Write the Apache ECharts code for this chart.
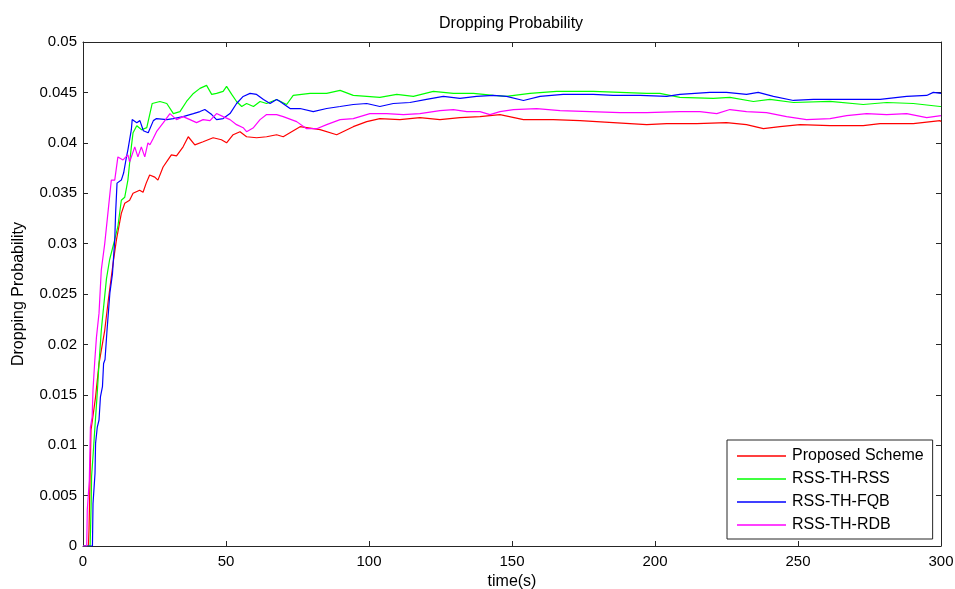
<!DOCTYPE html>
<html>
<head>
<meta charset="utf-8">
<script src="https://cdn.jsdelivr.net/npm/echarts@6/dist/echarts.min.js"></script>
<style>
  html, body { margin: 0; padding: 0; background: #fff; }
  #chart { width: 955px; height: 589px; }
</style>
</head>
<body>
<div id="chart"></div>
<script>
// Dropping probability over simulation time, [time (s), probability]
var proposedScheme = [
  [0, 0], [1.9, 0], [2.1, 0.0016], [2.8, 0.0115], [3.3, 0.0125], [4.4, 0.0148],
  [5.6, 0.0181], [7, 0.0204], [7.6, 0.0214], [8.9, 0.0245], [10.5, 0.028],
  [11.7, 0.0304], [13.4, 0.033], [14.6, 0.034], [16.3, 0.0343], [17.5, 0.035],
  [19.8, 0.0353], [21, 0.0351], [22.1, 0.036], [23.3, 0.0368], [25.1, 0.0366],
  [26.2, 0.0363], [28, 0.0376], [29.7, 0.0383], [30.9, 0.0388], [32.7, 0.0387],
  [35, 0.0396], [36.8, 0.0406], [39.1, 0.0398], [42, 0.0401], [45.5, 0.0405],
  [48.4, 0.0403], [50.2, 0.04], [52.5, 0.0408], [54.9, 0.0411], [57.2, 0.0406],
  [60.7, 0.0405], [64.2, 0.0406], [67.7, 0.0408], [70, 0.0406], [75.9, 0.0416],
  [82.9, 0.0413], [88.7, 0.0408], [94.5, 0.0416], [99.2, 0.0421], [103.8, 0.0424],
  [110.8, 0.0423], [117.8, 0.0425], [124.8, 0.0423], [131.8, 0.0425], [138.8, 0.0426],
  [145.8, 0.0428], [154, 0.0423], [164.4, 0.0423], [173.8, 0.0422], [185.4, 0.042],
  [197.1, 0.0418], [204.1, 0.0419], [214.6, 0.0419], [225, 0.042], [232, 0.0418],
  [237.9, 0.0414], [243.7, 0.0416], [250.7, 0.0418], [261.2, 0.0417], [272.8, 0.0417],
  [278.7, 0.0419], [290.3, 0.0419], [299.7, 0.0422], [300, 0.0421]
];
var rssThRss = [
  [0, 0], [2.5, 0], [2.9, 0.0048], [3.0, 0.0069], [3.5, 0.0089], [4.1, 0.0115],
  [4.9, 0.0148], [5.6, 0.0181], [6.4, 0.0214], [7.2, 0.0237], [8.2, 0.0265],
  [9.3, 0.0284], [11.1, 0.0304], [12.2, 0.0317], [13.4, 0.0343], [14.6, 0.0346],
  [15.7, 0.0363], [16.3, 0.038], [16.9, 0.0396], [17.5, 0.041], [18.8, 0.0417],
  [20.5, 0.0413], [22.3, 0.0415], [23.4, 0.0429], [24.2, 0.0439], [26.9, 0.0441],
  [29.3, 0.0439], [31.6, 0.0429], [33.9, 0.0431], [36.2, 0.0441], [38.6, 0.0449],
  [40.9, 0.0454], [43.2, 0.0457], [45, 0.0448], [46.7, 0.0449], [49, 0.0451],
  [50.2, 0.0456], [52, 0.0448], [53.7, 0.0441], [55.5, 0.0436], [57.2, 0.0439],
  [59.6, 0.0436], [61.9, 0.0441], [64.2, 0.0439], [67.7, 0.0443], [71.2, 0.0438],
  [73.5, 0.0447], [79.4, 0.0449], [85.2, 0.0449], [89.9, 0.0452], [94.5, 0.0447],
  [99.2, 0.0446], [103.8, 0.0445], [109.7, 0.0448], [115.5, 0.0446], [122.5, 0.0451],
  [129.5, 0.0449], [136.5, 0.0449], [143.5, 0.0447], [148, 0.0446], [156.3, 0.0449],
  [165.6, 0.0451], [178.4, 0.0451], [187.8, 0.045], [197.1, 0.0449], [201.7, 0.0449],
  [208.7, 0.0445], [220.4, 0.0444], [226.2, 0.0445], [234.4, 0.0441], [240.2, 0.0443],
  [248.4, 0.044], [261.2, 0.0441], [272.8, 0.0438], [281, 0.044], [290.3, 0.0439],
  [299.7, 0.0436], [300, 0.0436]
];
var rssThFqb = [
  [0, 0], [3.3, 0], [3.5, 0.0042], [4.2, 0.0072], [4.4, 0.0102], [5, 0.0118],
  [5.6, 0.0125], [6.1, 0.0148], [6.8, 0.0158], [7.2, 0.0181], [7.7, 0.0185],
  [8.4, 0.0214], [9.4, 0.0251], [10.3, 0.027], [11.1, 0.0304], [11.4, 0.033],
  [11.9, 0.036], [13.4, 0.0363], [14.2, 0.037], [15.2, 0.0386], [15.7, 0.0393],
  [16.9, 0.0413], [17.2, 0.0423], [18.8, 0.042], [19.9, 0.0422], [21.1, 0.0412],
  [22.8, 0.041], [24.6, 0.0422], [25.7, 0.0424], [29.3, 0.0423], [31.6, 0.0424],
  [35, 0.0426], [38.6, 0.0429], [40.9, 0.0431], [42.6, 0.0433], [45, 0.0428],
  [46.7, 0.0423], [49, 0.0424], [51.4, 0.0429], [53.7, 0.0439], [56, 0.0446],
  [58.4, 0.0449], [60.7, 0.0448], [63.1, 0.0443], [65.4, 0.0439], [67.7, 0.0443],
  [68.9, 0.0441], [72.4, 0.0434], [75.9, 0.0434], [80.5, 0.0431], [85.2, 0.0434],
  [89.9, 0.0436], [94.5, 0.0438], [99.2, 0.0439], [103.8, 0.0436], [108.5, 0.0439],
  [114.3, 0.044], [120.1, 0.0443], [126, 0.0446], [131.8, 0.0444], [137.6, 0.0446],
  [143.5, 0.0447], [148.1, 0.0446], [154, 0.0442], [159.8, 0.0446], [167.9, 0.0448],
  [178.4, 0.0448], [185.4, 0.0447], [194.8, 0.0447], [204.1, 0.0446], [208.7, 0.0448],
  [219.2, 0.045], [225, 0.045], [232, 0.0448], [236.1, 0.045], [241.4, 0.0446],
  [248.4, 0.0442], [255.4, 0.0443], [267, 0.0443], [278.7, 0.0443], [288, 0.0446],
  [295, 0.0447], [297.3, 0.045], [300, 0.0449]
];
var rssThRdb = [
  [0, 0], [1.3, 0], [1.5, 0.0036], [2.2, 0.0065], [2.6, 0.0118], [3.2, 0.0128],
  [3.5, 0.0155], [4.1, 0.0183], [4.7, 0.0207], [5.6, 0.0231], [6.4, 0.0274],
  [7.6, 0.03], [8.7, 0.033], [9.9, 0.0363], [11.1, 0.0363], [12.2, 0.0386],
  [14, 0.0383], [15.7, 0.0388], [16.3, 0.0381], [18.1, 0.0396], [19.2, 0.0386],
  [20.4, 0.0396], [21.6, 0.0386], [22.7, 0.04], [23.4, 0.0398], [24.5, 0.0404],
  [25.7, 0.0411], [28.1, 0.042], [30.4, 0.0429], [32.7, 0.0423], [35, 0.0426],
  [37.4, 0.0423], [39.7, 0.042], [42, 0.0423], [44.4, 0.0422], [46.7, 0.0429],
  [49, 0.0426], [51.4, 0.0423], [53.7, 0.0418], [56, 0.0415], [57.2, 0.0411],
  [59.6, 0.0415], [61.9, 0.0423], [64.2, 0.0428], [67.7, 0.0428], [70, 0.0426],
  [74.7, 0.0421], [78.2, 0.0414], [81.7, 0.0414], [85.2, 0.0418], [89.9, 0.0423],
  [94.5, 0.0424], [100.3, 0.0429], [106.2, 0.0429], [112, 0.0428], [117.8, 0.0429],
  [124.8, 0.0432], [129.5, 0.0433], [134.2, 0.0431], [138.8, 0.0431], [142.3, 0.0428],
  [145.8, 0.0431], [150.5, 0.0433], [158.6, 0.0434], [166.8, 0.0432], [177.3, 0.0431],
  [187.8, 0.043], [197.1, 0.043], [208.7, 0.0431], [215.7, 0.0431], [221.6, 0.0429],
  [226.2, 0.0433], [232, 0.0431], [239, 0.043], [246, 0.0426], [253, 0.0423],
  [261.2, 0.0424], [267, 0.0427], [274, 0.0429], [281, 0.0428], [288, 0.0429],
  [295, 0.0425], [300, 0.0427]
];

var seriesNames = ['Proposed Scheme', 'RSS-TH-RSS', 'RSS-TH-FQB', 'RSS-TH-RDB'];
var seriesColors = ['#ff0000', '#00ff00', '#0000ff', '#ff00ff'];
var seriesData = [proposedScheme, rssThRss, rssThFqb, rssThRdb];

var chartTitle = 'Dropping Probability';
var xAxisName = 'time(s)';
var yAxisName = 'Dropping Probability';

var axisFont = 'Liberation Sans, Arial, sans-serif';
var axisColor = '#262626';

var chart = echarts.init(document.getElementById('chart'), null, { renderer: 'canvas' });

// Axis with inward ticks; used on all four sides to close the plot box
function boxAxis(extra) {
  return Object.assign({
    axisLine: { show: true, onZero: false, lineStyle: { color: axisColor, width: 1 } },
    axisTick: { show: true, inside: true, length: 5, lineStyle: { color: axisColor } },
    splitLine: { show: false }
  }, extra);
}

chart.setOption({
  animation: false,
  backgroundColor: '#ffffff',
  title: {
    text: chartTitle,
    left: 434, top: 11,
    textStyle: { fontFamily: axisFont, fontSize: 16, fontWeight: 'normal', color: '#000' }
  },
  grid: {
    left: 83, top: 42, width: 858, height: 504,
    containLabel: false, outerBoundsMode: 'none'
  },
  legend: {
    orient: 'vertical',
    left: 727, top: 440,
    icon: 'rect',
    itemWidth: 49, itemHeight: 1.5, itemGap: 7,
    padding: [8, 9, 6, 10],
    borderColor: '#262626', borderWidth: 1,
    backgroundColor: '#fff',
    textStyle: { fontFamily: axisFont, fontSize: 16, color: '#000', padding: [0, 0, 0, 1] },
    data: seriesNames
  },
  xAxis: [
    boxAxis({
      type: 'value', min: 0, max: 300, interval: 50, position: 'bottom',
      name: xAxisName, nameLocation: 'middle', nameGap: 26,
      nameTextStyle: { fontFamily: axisFont, fontSize: 16, color: '#000' },
      axisLabel: { fontFamily: axisFont, fontSize: 15, color: '#000', margin: 8 }
    }),
    boxAxis({
      type: 'value', min: 0, max: 300, interval: 50, position: 'top',
      axisLabel: { show: false }
    })
  ],
  yAxis: [
    boxAxis({
      type: 'value', min: 0, max: 0.05, interval: 0.005, position: 'left',
      name: yAxisName, nameLocation: 'middle', nameGap: 56, nameRotate: 90,
      nameTextStyle: { fontFamily: axisFont, fontSize: 16, color: '#000' },
      axisLabel: { fontFamily: axisFont, fontSize: 15, color: '#000', margin: 6 }
    }),
    boxAxis({
      type: 'value', min: 0, max: 0.05, interval: 0.005, position: 'right',
      axisLabel: { show: false }
    })
  ],
  series: seriesData.map(function (d, i) {
    return {
      name: seriesNames[i],
      type: 'line',
      data: d,
      symbol: 'none',
      showSymbol: false,
      smooth: false,
      clip: true,
      lineStyle: { color: seriesColors[i], width: 1.2 },
      itemStyle: { color: seriesColors[i] },
      z: 2 + i
    };
  })
});
</script>
</body>
</html>
